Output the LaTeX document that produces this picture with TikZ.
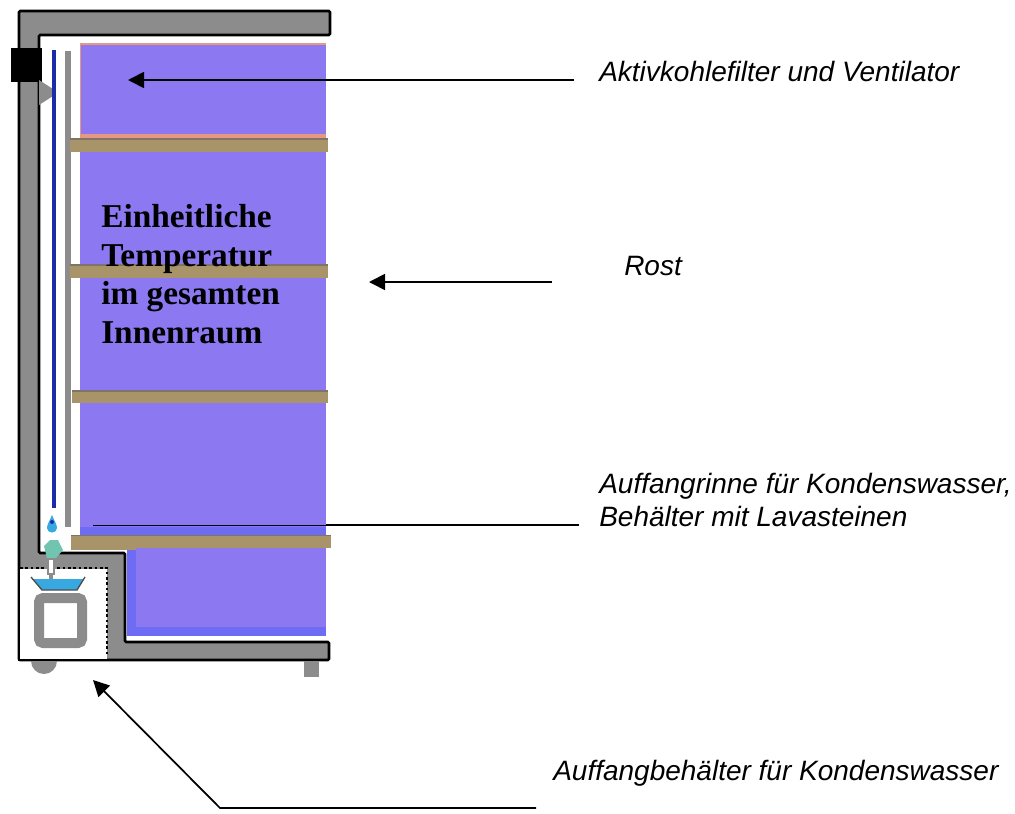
\documentclass[tikz,border=0pt]{standalone}
\usepackage{fontspec}
\setmainfont{Liberation Sans}
\newfontfamily\serifbold{Liberation Serif}
\usetikzlibrary{arrows.meta, positioning}
\definecolor{wallgray}{HTML}{8C8C8C}
\definecolor{roomviolet}{HTML}{8C78F0}
\definecolor{edgeblue}{HTML}{6E6CF4}
\definecolor{shelfbrown}{HTML}{A89468}
\definecolor{shelfedge}{HTML}{7E7468}
\definecolor{pipeblue}{HTML}{1C2CA8}
\definecolor{waterblue}{HTML}{38A8E0}
\definecolor{blobgreen}{HTML}{70C4B0}
\definecolor{edgerose}{HTML}{E89880}
\tikzset{
    wall/.style={fill=wallgray, draw=black, line width=2pt},
    shelf/.style={fill=shelfbrown, draw=none},
    label/.style={font=\itshape\fontsize{21}{24.75}\selectfont, anchor=base west, align=left, inner sep=0pt},
    heading/.style={font=\serifbold\bfseries\fontsize{25}{29}\selectfont, anchor=north west, align=left, inner sep=0pt},
    pointer/.style={draw=black, line width=1.3pt},
    tip/.style={-{Triangle[length=12pt, width=12pt]}}
}
\begin{document}
\begin{tikzpicture}[x=0.75pt, y=-0.75pt]
    \useasboundingbox (0,0) rectangle (1015,814);

    % Room
    \fill[roomviolet] (80,44) rectangle (326,527);
    \fill[edgeblue] (80,527) rectangle (326,536);
    \fill[edgeblue] (127,547) rectangle (326,636);
    \fill[roomviolet] (136,547) rectangle (326,627);
    \fill[edgerose] (80,43) rectangle (326,45);
    \fill[edgerose] (80,134) rectangle (326,138);
    \draw[edgerose, line width=0.5pt] (80,44) -- (80,134);

    % Cabinet
    \draw[wall, rounded corners=1pt] (19,11) -- (330,11) -- (330,35) -- (39,35)
        -- (39,553) -- (125,553) -- (125,642) -- (329,642) -- (329,660) -- (19,660) -- cycle;
    \fill[white] (20,569) rectangle (107,659);
    \draw[black, line width=2pt, dotted] (20,568) -- (107,568) -- (107,656);
    \draw[black, line width=2pt] (19,568) -- (19,660) -- (107,660);

    % Feet
    \fill[wallgray] (31,661) arc[start angle=180, end angle=0, radius=13] -- cycle;
    \fill[wallgray] (304,661) rectangle (319,677);

    % Fan and pipes
    \fill[black] (11,48) rectangle (42,82);
    \fill[wallgray] (39,80) -- (53,89) -- (53,96) -- (39,105) -- cycle;
    \draw[pipeblue, line width=2.5pt] (54,50) -- (54,508);
    \draw[wallgray, line width=4pt] (68,51) -- (68,527);
    \fill[waterblue] (52,515) .. controls (49,522) and (47,525) .. (47,528)
        .. controls (47,534) and (57,534) .. (57,528) .. controls (57,525) and (55,522) .. (52,515);
    \fill[pipeblue] (52,522) circle[radius=2];

    % Shelves
    \foreach \shelfx/\shelfy/\shelfh in {70/138/14, 70/264/14, 72/390/13} {
        \fill[shelfbrown] (\shelfx,\shelfy) rectangle (328,\shelfy+\shelfh);
        \fill[shelfedge] (\shelfx,\shelfy) rectangle (328,\shelfy+2);
    }
    \fill[shelfbrown] (71,535) rectangle (331,548);
    \fill[shelfbrown] (71,548) rectangle (136,550);
    \fill[shelfedge] (71,535) rectangle (331,536);

    % Collector
    \fill[blobgreen] (44,546) -- (50,540) -- (58,540) -- (63,550) -- (56,558) -- (47,558) -- cycle;
    \draw[wallgray, line width=1.5pt, fill=white] (48,559) rectangle (54,574);
    \draw[wallgray, line width=2.5pt] (51,574) -- (51,579);
    \fill[waterblue] (33,579) -- (84,579) -- (77,590) -- (42,590) -- cycle;
    \draw[black!70, line width=1pt] (31,577) -- (42,590) -- (77,590) -- (85,577);
    \draw[wallgray, line width=7.5pt, rounded corners=3pt, fill=white] (39,598) rectangle (82,643);

    % Labels
    \node[heading] (Title) at (101,204) {Einheitliche\\Temperatur\\im gesamten\\Innenraum};
    \node[label] (Filter) at (599,81) {Aktivkohlefilter und Ventilator};
    \node[label] (Rost) at (624,275) {Rost};
    \node[label] (RinneA) at (599,493) {Auffangrinne für Kondenswasser,};
    \node[label] (RinneB) at (599,526) {Behälter mit Lavasteinen};
    \node[label] (Tank) at (553,780) {Auffangbehälter für Kondenswasser};

    % Pointers
    \coordinate (FilterEnd) at (574,80);
    \coordinate (FilterTip) at (128,80);
    \coordinate (RostEnd) at (552,282);
    \coordinate (RostTip) at (369,282);
    \coordinate (RinneEnd) at (579,525);
    \coordinate (RinneTip) at (326,525);
    \coordinate (RinneFar) at (93,525);
    \coordinate (TankEnd) at (536,808);
    \coordinate (TankBend) at (220,808);
    \coordinate (TankTip) at (93,680);
    \draw[pointer, tip] (FilterEnd) -- (FilterTip);
    \draw[pointer, tip] (RostEnd) -- (RostTip);
    \draw[pointer] (RinneEnd) -- (RinneTip);
    \draw[black, line width=0.5pt] (RinneTip) -- (RinneFar);
    \draw[pointer, tip] (TankEnd) -- (TankBend) -- (TankTip);
\end{tikzpicture}
\end{document}
